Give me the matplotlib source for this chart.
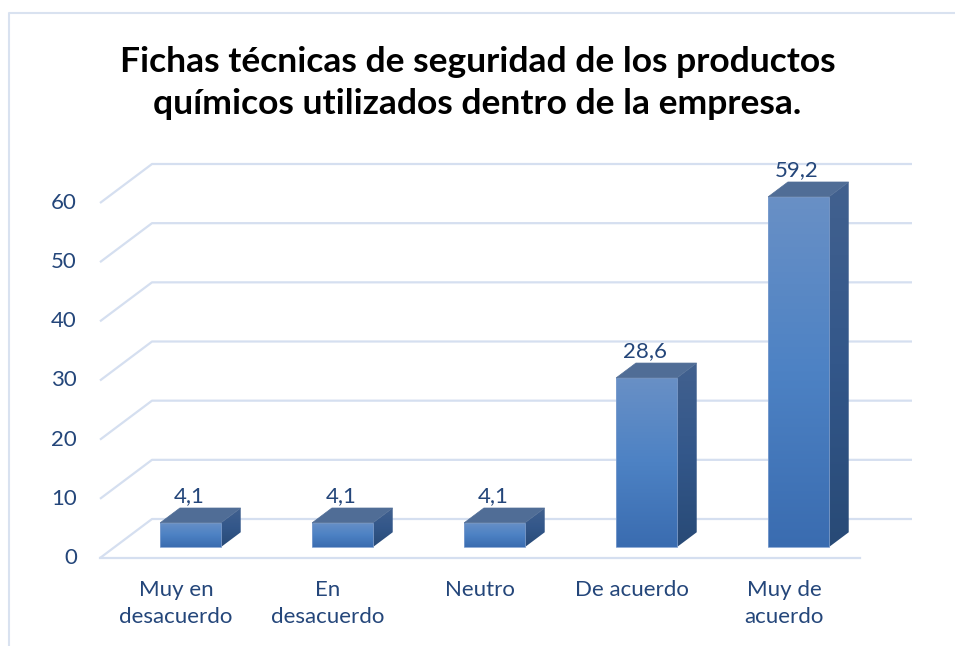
import numpy as np
import matplotlib
matplotlib.use("Agg")
import matplotlib.pyplot as plt
from matplotlib.patches import Polygon, Rectangle
from matplotlib.lines import Line2D
from matplotlib.colors import LinearSegmentedColormap

categories = ["Muy en\ndesacuerdo", "En\ndesacuerdo", "Neutro", "De acuerdo", "Muy de\nacuerdo"]
values = [4.1, 4.1, 4.1, 28.6, 59.2]
value_labels = ["4,1", "4,1", "4,1", "28,6", "59,2"]
yticks = [0, 10, 20, 30, 40, 50, 60]
title = "Fichas técnicas de seguridad de los productos\nquímicos utilizados dentro de la empresa."

plt.rcParams['font.family'] = ['Lato', 'DejaVu Sans']

W, H = 955, 646
fig = plt.figure(figsize=(W / 100, H / 100), dpi=100)
ax = fig.add_axes([0, 0, 1, 1])
ax.axis("off")

# map pixels -> data: front plane x from 100px to 860px for 5 cats, y 0 at 558px, 60 at 203px
px_per_cat = 152.0
px_per_val = (558 - 203) / 60.0

# depth of the 3d box (floor) in data units
DX = 52 / px_per_cat
DY = 39 / px_per_val
x0, x1 = -0.5, len(categories) - 0.5

grid_c = "#d5dff0"
text_c = "#24467a"

# gridlines on left wall and back wall
for v in yticks:
    ax.plot([x0, x0 + DX, x1 + DX], [v, v + DY, v + DY], color=grid_c, lw=1.6,
            solid_capstyle="butt", zorder=1)
ax.plot([x0, x1], [0, 0], color=grid_c, lw=1.6, zorder=1)

# tick labels
for v in yticks:
    ax.text(x0 - 23 / px_per_cat, v, str(v), ha="right", va="center",
            fontsize=16, color=text_c)
for i, c in enumerate(categories):
    ax.text(i, -22 / px_per_val, c, ha="center", va="top", fontsize=16,
            color=text_c, linespacing=1.42)

# bars
bw = 0.40
d0 = 0.28   # front face depth position
bd = 0.38   # bar depth fraction
grad = np.linspace(0, 1, 256).reshape(-1, 1)
front_cm = LinearSegmentedColormap.from_list("f", ["#3a6cb0", "#4d82c4", "#6990c6"])
side_cm = LinearSegmentedColormap.from_list("s", ["#284a76", "#33578a", "#42618f"])

for i, v in enumerate(values):
    fx0 = i - bw / 2 + d0 * DX
    fx1 = i + bw / 2 + d0 * DX
    fy0 = d0 * DY
    fy1 = v + d0 * DY
    ox, oy = bd * DX, bd * DY
    # front face
    im = ax.imshow(grad, cmap=front_cm, extent=[fx0, fx1, fy0, fy1],
                   origin="lower", aspect="auto", zorder=3)
    rect = Rectangle((fx0, fy0), fx1 - fx0, fy1 - fy0, transform=ax.transData)
    im.set_clip_path(rect)
    ax.add_patch(Rectangle((fx0, fy0), fx1 - fx0, fy1 - fy0, fill=False,
                           ec="#7e9fcf", lw=0.6, zorder=4))
    # side face
    side = Polygon([(fx1, fy0), (fx1 + ox, fy0 + oy), (fx1 + ox, fy1 + oy), (fx1, fy1)],
                   closed=True, transform=ax.transData)
    im2 = ax.imshow(grad, cmap=side_cm, extent=[fx1, fx1 + ox, fy0, fy1 + oy],
                    origin="lower", aspect="auto", zorder=3)
    im2.set_clip_path(side)
    # top face
    ax.add_patch(Polygon([(fx0, fy1), (fx1, fy1), (fx1 + ox, fy1 + oy), (fx0 + ox, fy1 + oy)],
                         closed=True, fc="#506d96", ec="#506d96", lw=0.5, zorder=4))
    # value label
    ax.text((fx0 + fx1) / 2 - 0.01, fy1 + oy + 12 / px_per_val, value_labels[i],
            ha="center", va="center", fontsize=16, color=text_c, zorder=5)

ax.set_xlim(-0.5 - 100 / px_per_cat, -0.5 + (W - 100) / px_per_cat)
ax.set_ylim(-(H - 558) / px_per_val, 558 / px_per_val)

# title
fig.text(0.5, 1 - 83 / H, title, ha="center", va="center", fontsize=25.5,
         fontweight="bold", color="black", linespacing=1.42)

# chart area border (left and top visible)
fig.add_artist(Line2D([9 / W, 9 / W, 1], [0, 1 - 13 / H, 1 - 13 / H],
                      transform=fig.transFigure, color="#d9e2f0", lw=1.5))

fig.savefig("out.png", dpi=100)
